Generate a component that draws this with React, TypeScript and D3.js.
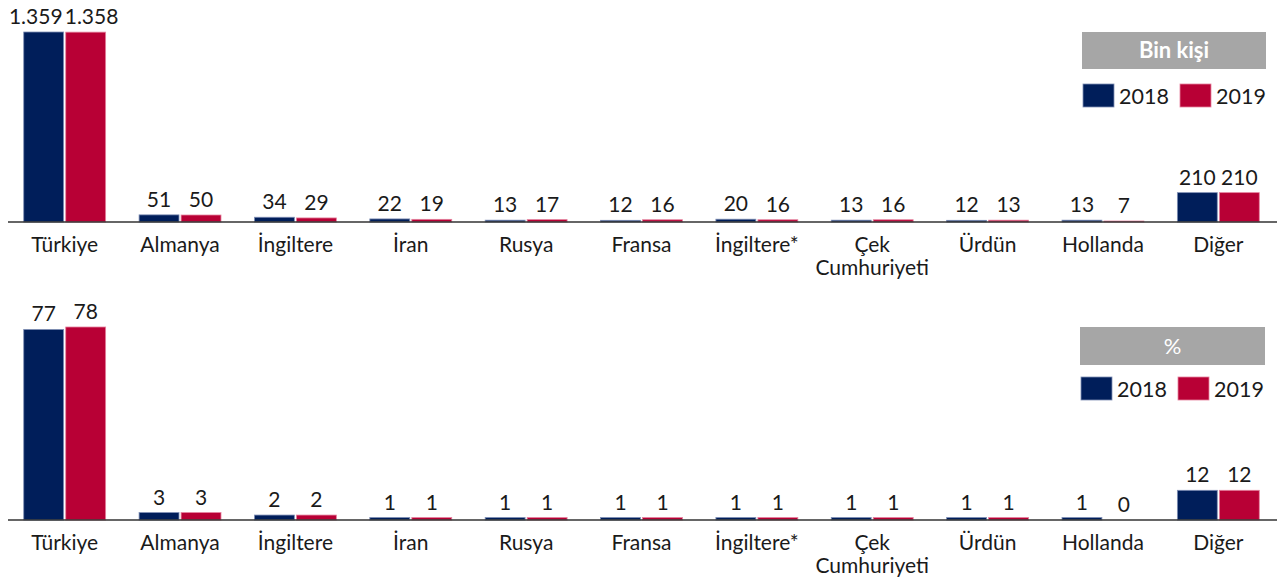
import React from "react";
import * as d3 from "d3";

const categories = [
  "Türkiye",
  "Almanya",
  "İngiltere",
  "İran",
  "Rusya",
  "Fransa",
  "İngiltere*",
  "Çek Cumhuriyeti",
  "Ürdün",
  "Hollanda",
  "Diğer",
];
const years = ["2018", "2019"];
const thousands2018 = [1359, 51, 34, 22, 13, 12, 20, 13, 12, 13, 210];
const thousands2019 = [1358, 50, 29, 19, 17, 16, 16, 16, 13, 7, 210];
const percent2018 = [77, 3, 2, 1, 1, 1, 1, 1, 1, 1, 12];
const percent2019 = [78, 3, 2, 1, 1, 1, 1, 1, 1, 0, 12];
const thousandsLabels2018 = ["1.359", "51", "34", "22", "13", "12", "20", "13", "12", "13", "210"];
const thousandsLabels2019 = ["1.358", "50", "29", "19", "17", "16", "16", "16", "13", "7", "210"];

const W = 1277;
const H = 587;
const FONT = "Lato, 'Open Sans', sans-serif";
const COLORS: Record<string, string> = { "2018": "#001e5a", "2019": "#b80035" };
const STROKES: Record<string, string> = { "2018": "#7f8fb5", "2019": "#e5829e" };

const x = d3
  .scaleBand<string>()
  .domain(categories)
  .range([7, 1276])
  .paddingInner(0.29)
  .paddingOuter(0.145);
const xSub = d3
  .scaleBand<string>()
  .domain(years)
  .range([0, x.bandwidth()])
  .paddingInner(0.05);

// approximate label width in px at 21px font
const labelWidth = (s: string) =>
  s.split("").reduce((a, ch) => a + (ch === "." ? 5 : 11.3), 0);

type PanelProps = {
  axisY: number;
  topY: number;
  max: number;
  v18: number[];
  v19: number[];
  l18: string[];
  l19: string[];
  legendTitle: string;
  legendBox: { x: number; y: number; w: number; h: number };
  legendY: number;
  titleBold: boolean;
};

function Panel(p: PanelProps) {
  const y = d3.scaleLinear().domain([0, p.max]).range([p.axisY, p.topY]);
  const series = [
    { year: "2018", vals: p.v18, labels: p.l18 },
    { year: "2019", vals: p.v19, labels: p.l19 },
  ];
  const bw = xSub.bandwidth();
  return (
    <g>
      {series.map((s, si) =>
        categories.map((c, i) => {
          const bx = (x(c) ?? 0) + (xSub(s.year) ?? 0);
          const top = y(s.vals[i]);
          const h = p.axisY - top;
          const overlap =
            (labelWidth(p.l18[i]) + labelWidth(p.l19[i])) / 2 > bw + 2 - 2;
          let lx = bx + bw / 2;
          let anchor: "middle" | "end" | "start" = "middle";
          if (overlap) {
            if (si === 0) {
              lx = bx + bw - 1;
              anchor = "end";
            } else {
              lx = bx - 1;
              anchor = "start";
            }
          }
          return (
            <g key={s.year + c}>
              {h > 0 && (
                <rect
                  x={bx}
                  y={top}
                  width={bw}
                  height={h}
                  fill={COLORS[s.year]}
                  stroke={STROKES[s.year]}
                  strokeWidth={0.8}
                />
              )}
              <text
                x={lx}
                y={top - 8}
                textAnchor={anchor}
                fontFamily={FONT}
                fontSize={21}
                fill="#1a1a1a"
              >
                {s.labels[i]}
              </text>
            </g>
          );
        })
      )}
      <line x1={8} x2={W} y1={p.axisY} y2={p.axisY} stroke="#333" strokeWidth={1.5} />
      {categories.map((c) => {
        const cx = (x(c) ?? 0) + x.bandwidth() / 2;
        const lines = c === "Çek Cumhuriyeti" ? ["Çek", "Cumhuriyeti"] : [c];
        return (
          <text
            key={c}
            x={cx}
            y={p.axisY + 30}
            textAnchor="middle"
            fontFamily={FONT}
            fontSize={21}
            fill="#1a1a1a"
          >
            {lines.map((ln, k) => (
              <tspan key={k} x={cx} dy={k === 0 ? 0 : 23}>
                {ln}
              </tspan>
            ))}
          </text>
        );
      })}
      <rect
        x={p.legendBox.x}
        y={p.legendBox.y}
        width={p.legendBox.w}
        height={p.legendBox.h}
        fill="#a6a6a6"
      />
      <text
        x={p.legendBox.x + p.legendBox.w / 2}
        y={p.legendBox.y + p.legendBox.h / 2 + 7.5}
        textAnchor="middle"
        fontFamily={FONT}
        fontSize={22}
        fontWeight={p.titleBold ? 700 : 400}
        fill="#ffffff"
      >
        {p.legendTitle}
      </text>
      {years.map((yr, k) => {
        const lx = p.legendBox.x + 1 + k * 97;
        return (
          <g key={yr}>
            <rect
              x={lx}
              y={p.legendY}
              width={31}
              height={23}
              fill={COLORS[yr]}
              stroke={STROKES[yr]}
              strokeWidth={0.8}
            />
            <text
              x={lx + 36}
              y={p.legendY + 20}
              fontFamily={FONT}
              fontSize={21.5}
              fill="#1a1a1a"
            >
              {yr}
            </text>
          </g>
        );
      })}
    </g>
  );
}

export default function App() {
  return (
    <svg
      width={W}
      height={H}
      style={{ position: "absolute", left: 0, top: 0, background: "#fff" }}
    >
      <Panel
        axisY={222}
        topY={32}
        max={1359}
        v18={thousands2018}
        v19={thousands2019}
        l18={thousandsLabels2018}
        l19={thousandsLabels2019}
        legendTitle="Bin kişi"
        legendBox={{ x: 1082, y: 32, w: 184, h: 37 }}
        legendY={84}
        titleBold={true}
      />
      <Panel
        axisY={520}
        topY={327}
        max={78}
        v18={percent2018}
        v19={percent2019}
        l18={percent2018.map(String)}
        l19={percent2019.map(String)}
        legendTitle="%"
        legendBox={{ x: 1080, y: 327, w: 185, h: 38 }}
        legendY={377}
        titleBold={false}
      />
    </svg>
  );
}
